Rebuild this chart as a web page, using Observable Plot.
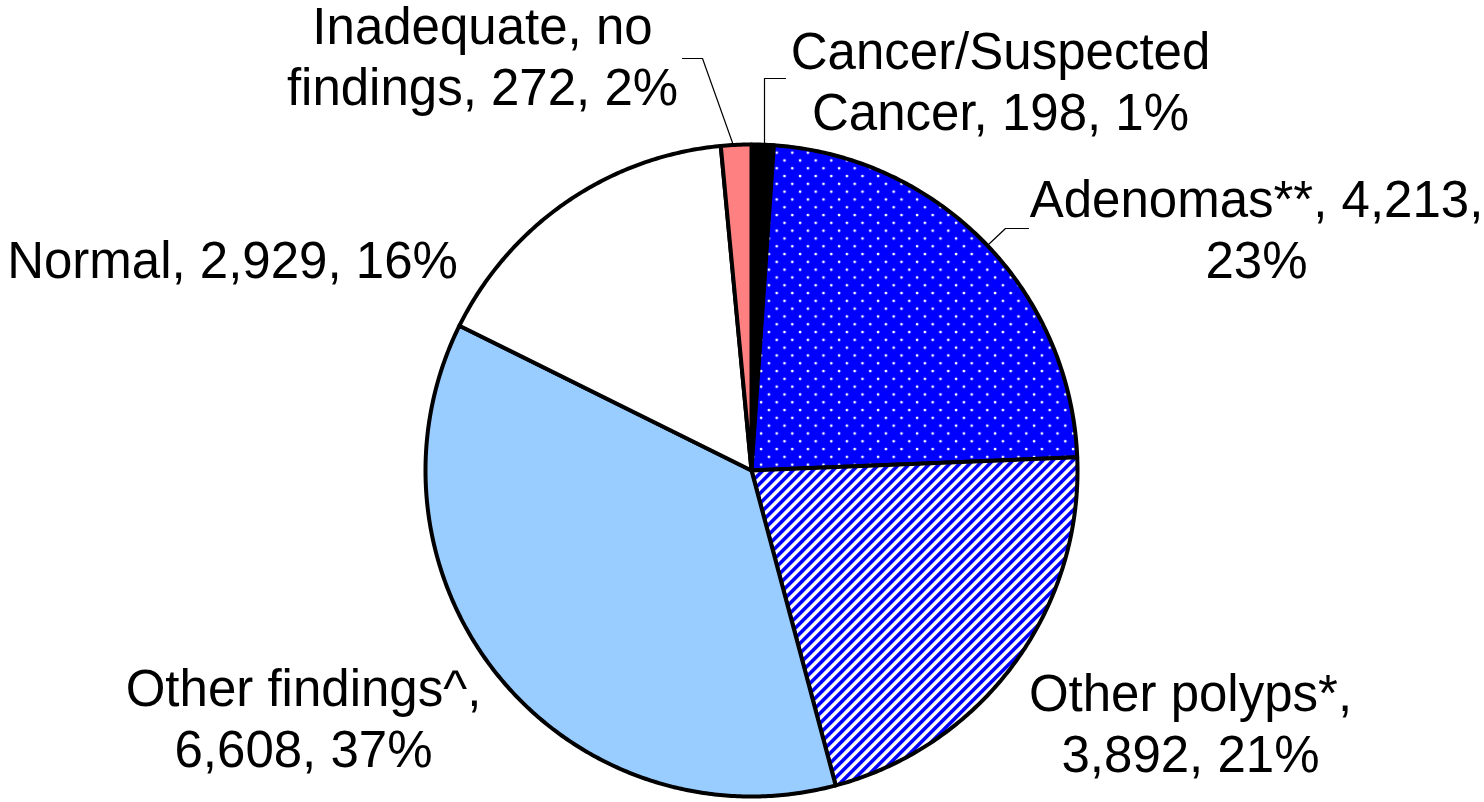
<!DOCTYPE html>
<html><head><meta charset="utf-8">
<script src="https://cdn.jsdelivr.net/npm/d3@7"></script>
<script src="https://cdn.jsdelivr.net/npm/@observablehq/plot@0.6"></script>
<style>html,body{margin:0;padding:0;background:#fff;overflow:hidden}</style>
</head><body><div id="chart"></div>
<script>
// ---- data ----
const categories = ["Cancer/Suspected Cancer", "Adenomas**", "Other polyps*", "Other findings^", "Normal", "Inadequate, no findings"];
const counts = [198, 4213, 3892, 6608, 2929, 272];
const percentLabels = ["1%", "23%", "21%", "37%", "16%", "2%"];
const fills = ["#000000", "url(#dots)", "url(#stripes)", "#99CCFF", "#FFFFFF", "#FF8080"];
const labelLines = [
  ["Cancer/Suspected", "Cancer, 198, 1%"],
  ["Adenomas**, 4,213,", "23%"],
  ["Other polyps*,", "3,892, 21%"],
  ["Other findings^,", "6,608, 37%"],
  ["Normal, 2,929, 16%"],
  ["Inadequate, no", "findings, 272, 2%"]
];

// ---- layout (pixels) ----
const W = 1484, H = 802, CX = 751, CY = 470, R = 326;
const FONT = 51, LINE = 61;
const labelLayout = [
  {x: 1000, y: 68}, {x: 1256, y: 216}, {x: 1190, y: 710},
  {x: 303, y: 705}, {x: 232, y: 277}, {x: 482, y: 43}
];
const leaderLayout = [
  [[785, 78], [764, 78], [764, 145]],
  [[1028, 228], [1005, 228], [988, 244]],
  null, null, null,
  [[682, 58], [702, 58], [733, 145]]
];
const ux = px => (px - CX) / R;
const uy = py => (CY - py) / R;

// ---- geometry from data ----
const arcs = d3.pie().sort(null).value(d => d)(counts);
const slicePts = [];
arcs.forEach((a, i) => {
  const n = Math.max(2, Math.ceil((a.endAngle - a.startAngle) / (Math.PI / 360)));
  slicePts.push({slice: i, x: 0, y: 0, fill: fills[i]});
  for (let k = 0; k <= n; k++) {
    const t = a.startAngle + (a.endAngle - a.startAngle) * k / n;
    slicePts.push({slice: i, x: Math.sin(t), y: Math.cos(t), fill: fills[i]});
  }
});
const textData = [];
labelLines.forEach((lines, i) => {
  lines.forEach((t, j) => textData.push({text: t, x: ux(labelLayout[i].x), y: uy(labelLayout[i].y + j * LINE)}));
});
const leaderData = [];
leaderLayout.forEach((pts, i) => {
  if (!pts) return;
  pts.forEach(p => leaderData.push({id: i, x: ux(p[0]), y: uy(p[1])}));
});

const chart = Plot.plot({
  width: W, height: H, margin: 0,
  x: {domain: [-1, 1], range: [CX - R, CX + R], axis: null},
  y: {domain: [-1, 1], range: [CY + R, CY - R], axis: null},
  color: {type: "identity"},
  style: {background: "white", overflow: "visible"},
  marks: [
    Plot.line(slicePts, {x: "x", y: "y", z: "slice", fill: "fill", stroke: "black", strokeWidth: 4, curve: "linear-closed", strokeLinejoin: "round"}),
    Plot.line(leaderData, {x: "x", y: "y", z: "id", stroke: "black", strokeWidth: 1.2}),
    Plot.text(textData, {x: "x", y: "y", text: "text", textAnchor: "middle", lineAnchor: "bottom", fontSize: FONT, fontFamily: "'Liberation Sans', Arial, sans-serif", fill: "black"})
  ]
});

const svg = d3.select(chart);
const defs = svg.insert("defs", ":first-child");
const dots = defs.append("pattern").attr("id", "dots").attr("patternUnits", "userSpaceOnUse").attr("width", 15.6).attr("height", 15.6);
dots.append("rect").attr("width", 15.6).attr("height", 15.6).attr("fill", "#0000FF");
dots.append("circle").attr("cx", 4).attr("cy", 4).attr("r", 1.4).attr("fill", "white");
dots.append("circle").attr("cx", 11.8).attr("cy", 11.8).attr("r", 1.4).attr("fill", "white");
const st = defs.append("pattern").attr("id", "stripes").attr("patternUnits", "userSpaceOnUse").attr("width", 7.07).attr("height", 10).attr("patternTransform", "rotate(45)");
st.append("rect").attr("width", 7.07).attr("height", 10).attr("fill", "white");
st.append("rect").attr("width", 3.6).attr("height", 10).attr("fill", "#0000FF");

document.getElementById("chart").appendChild(chart);
</script>
</body></html>
